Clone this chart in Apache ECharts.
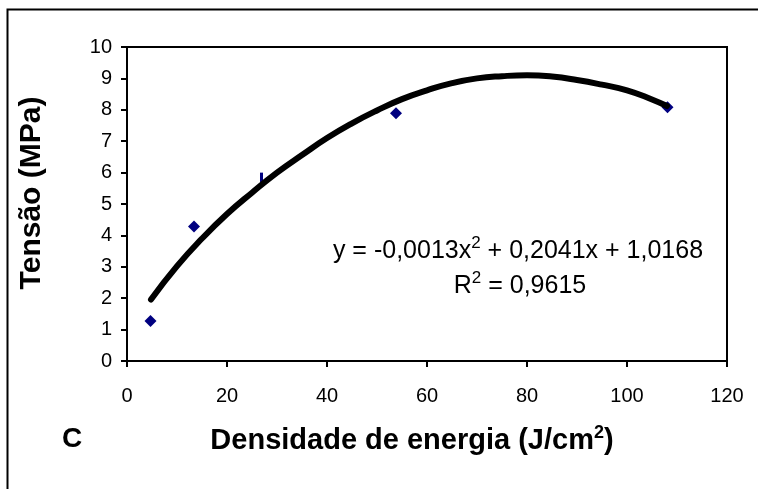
<!DOCTYPE html>
<html>
<head>
<meta charset="utf-8">
<script src="https://cdn.jsdelivr.net/npm/echarts@6/dist/echarts.min.js"></script>
<style>
html,body{margin:0;padding:0;background:#fff;}
#chart{width:758px;height:489px;}
</style>
</head>
<body>
<div id="chart"></div>
<script>
// Measured data points (energy density J/cm2, stress MPa)
var pointX = [4.7, 13.4, 26.9, 53.8, 108.1];
var pointY = [1.27, 4.28, 5.84, 7.89, 8.08];

// Polynomial trend line
var trendX = [4.8, 10, 15, 20, 25, 30, 35, 40, 45, 50, 55, 60, 65, 70, 75, 80, 85, 90, 95, 100, 105, 108];
var trendY = [1.96, 3.02, 3.90, 4.68, 5.36, 6.00, 6.56, 7.10, 7.57, 7.98, 8.34, 8.62, 8.85, 9.00, 9.07, 9.10, 9.06, 8.95, 8.80, 8.62, 8.33, 8.12];

// Axis ticks
var xTicks = [0, 20, 40, 60, 80, 100, 120];
var yTicks = [0, 1, 2, 3, 4, 5, 6, 7, 8, 9, 10];

var equationText = 'y = -0,0013x{sup|2} + 0,2041x + 1,0168';
var r2Text = 'R{sup|2} = 0,9615';

var chart = echarts.init(document.getElementById('chart'), null, {renderer: 'canvas'});
var font = 'Liberation Sans, Arial, sans-serif';

var option = {
  backgroundColor: '#ffffff',
  animation: false,
  grid: {left: 127, top: 47, right: 31, bottom: 128, show: true, borderColor: '#000', borderWidth: 2, backgroundColor: '#fff'},
  xAxis: {
    type: 'value',
    min: xTicks[0], max: xTicks[xTicks.length - 1], interval: 20,
    axisLine: {show: true, lineStyle: {color: '#000', width: 2}},
    axisTick: {show: true, inside: false, length: 6, lineStyle: {color: '#000', width: 2}},
    axisLabel: {color: '#000', fontFamily: font, fontSize: 20, margin: 25},
    splitLine: {show: false},
    name: 'Densidade de energia (J/cm{sup|2})',
    nameLocation: 'middle',
    nameGap: 63,
    nameTextStyle: {
      color: '#000', fontFamily: font, fontSize: 29, fontWeight: 'bold', padding: [0, 30, 0, 0],
      rich: {sup: {fontSize: 18, fontWeight: 'bold', fontFamily: font, color: '#000', verticalAlign: 'top', padding: [0, 0, 16, 0]}}
    }
  },
  yAxis: {
    type: 'value',
    min: yTicks[0], max: yTicks[yTicks.length - 1], interval: 1,
    axisLine: {show: true, lineStyle: {color: '#000', width: 2}},
    axisTick: {show: true, inside: false, length: 6, lineStyle: {color: '#000', width: 2}},
    axisLabel: {color: '#000', fontFamily: font, fontSize: 20, margin: 15},
    splitLine: {show: false},
    name: 'Tensão (MPa)',
    nameLocation: 'middle',
    nameGap: 80,
    nameTextStyle: {color: '#000', fontFamily: font, fontSize: 30, fontWeight: 'bold', padding: [0, 0, 0, 22]}
  },
  graphic: [
    {type: 'rect', left: 5, top: 7, shape: {width: 800, height: 600}, style: {fill: 'none', stroke: '#000', lineWidth: 2}, z: 100, silent: true},
    {type: 'text', left: 62, top: 425, style: {text: 'C', font: 'bold 28px ' + font, fill: '#000'}, z: 100},
    {type: 'text', x: 518, y: 235, style: {text: equationText, align: 'center', font: '25px ' + font, fill: '#000',
      rich: {sup: {fontSize: 17, fontFamily: font, fill: '#000', verticalAlign: 'top', padding: [0, 0, 16, 0]}}}, z: 100},
    {type: 'text', x: 520, y: 270, style: {text: r2Text, align: 'center', font: '25px ' + font, fill: '#000',
      rich: {sup: {fontSize: 17, fontFamily: font, fill: '#000', verticalAlign: 'top', padding: [0, 0, 16, 0]}}}, z: 100}
  ],
  series: [
    {
      type: 'scatter',
      data: pointX.map(function (x, i) {
        var d = {value: [x, pointY[i]]};
        if (i === 2) { d.symbol = 'rect'; d.symbolSize = [3, 10]; }
        return d;
      }),
      symbol: 'diamond', symbolSize: 12,
      itemStyle: {color: '#000080', opacity: 1},
      z: 2
    },
    {
      type: 'line',
      data: trendX.map(function (x, i) { return [x, trendY[i]]; }),
      smooth: true, showSymbol: false, symbol: 'none',
      lineStyle: {color: '#000', width: 6, cap: 'round', join: 'round'},
      z: 3
    }
  ]
};
chart.setOption(option);
</script>
</body>
</html>
